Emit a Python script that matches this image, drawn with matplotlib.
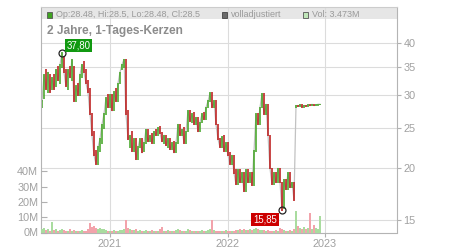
import matplotlib
matplotlib.use('Agg')
import matplotlib.pyplot as plt
import numpy as np
from matplotlib.patches import Rectangle
from matplotlib.ticker import NullLocator

plt.rcParams['font.family'] = ['Liberation Sans', 'DejaVu Sans']

# ---------------- data ----------------
opens = [
    28.0, 29.5, 34.5, 30.5, 33.5, 31.0, 33.5, 31.5, 35.0, 32.0,
    35.0, 37.0, 34.5, 31.0, 35.0, 32.5, 35.0, 29.0, 32.0, 30.0,
    33.0, 36.0, 34.5, 32.5, 31.0, 27.0, 24.5, 22.0, 20.5, 22.0,
    23.0, 25.0, 27.0, 30.0, 28.0, 30.0, 27.5, 31.0, 29.0, 32.0,
    34.5, 35.0, 36.5, 27.5, 22.5, 24.5, 22.0, 23.5, 21.0, 22.5,
    23.5, 22.0, 23.0, 24.8, 23.2, 24.2, 23.0, 24.8, 24.0, 25.2,
    24.3, 23.0, 24.0, 22.5, 23.5, 22.2, 23.2, 21.8, 23.0, 25.5,
    24.0, 25.0, 23.0, 24.5, 27.5, 25.8, 27.2, 25.5, 26.5, 24.5,
    25.8, 27.2, 26.2, 28.0, 29.0, 30.3, 28.0, 29.0, 25.5, 23.5,
    22.5, 24.0, 22.0, 23.0, 21.8, 20.5, 21.5, 19.8, 18.3, 19.8,
    18.5, 19.5, 17.6, 19.8, 18.5, 19.5, 18.2, 22.0, 27.0, 25.5,
    28.0, 30.2, 27.0, 28.5, 24.0, 20.0, 18.3, 19.5, 18.5, 20.0,
    18.5, 16.0, 18.8, 17.8, 19.5, 18.0, 18.5, 28.0, 28.3, 28.2,
    28.4, 28.1, 28.3, 28.2, 28.4, 28.3, 28.5, 28.3, 28.4, 28.48,
]
closes = [
    29.0, 33.5, 31.0, 34.0, 30.5, 33.0, 31.0, 34.5, 32.5, 35.5,
    37.8, 34.0, 31.5, 34.5, 33.0, 36.5, 29.0, 31.5, 30.0, 33.5,
    35.5, 34.0, 32.0, 30.5, 27.0, 24.0, 21.5, 20.5, 22.5, 23.5,
    25.5, 27.0, 29.5, 28.0, 30.0, 27.5, 30.5, 29.0, 32.0, 34.0,
    35.5, 36.5, 27.0, 23.5, 24.0, 22.0, 23.5, 21.0, 22.5, 23.5,
    21.8, 23.0, 24.8, 23.2, 24.0, 23.0, 24.5, 24.0, 25.0, 24.3,
    23.2, 24.0, 22.7, 23.5, 22.2, 23.0, 21.8, 23.0, 25.5, 24.0,
    24.8, 23.0, 24.5, 27.5, 26.0, 27.0, 25.5, 26.5, 24.5, 25.8,
    27.0, 26.2, 28.0, 29.0, 30.3, 28.0, 29.0, 25.5, 23.5, 22.5,
    23.8, 22.0, 23.0, 21.5, 20.5, 21.5, 19.5, 18.3, 19.8, 18.5,
    19.5, 17.6, 19.8, 18.5, 19.5, 18.2, 22.0, 27.0, 25.5, 28.0,
    30.2, 27.0, 28.5, 24.0, 20.0, 18.3, 19.5, 18.5, 20.0, 18.5,
    15.85, 18.8, 17.8, 19.5, 18.0, 18.5, 16.8, 28.3, 28.2, 28.4,
    28.1, 28.3, 28.2, 28.4, 28.3, 28.5, 28.3, 28.4, 28.5, 28.5,
]
volumes_m = [
    2.5, 3.0, 1.5, 2.0, 1.2, 7.0, 1.5, 2.5, 1.2, 1.8,
    2.0, 1.5, 1.0, 1.3, 2.5, 1.0, 1.5, 1.2, 1.0, 1.3,
    1.5, 1.0, 1.2, 2.0, 6.5, 3.5, 4.0, 3.0, 2.5, 3.0,
    2.0, 2.5, 1.5, 1.2, 1.0, 1.3, 1.5, 1.0, 1.2, 1.5,
    1.8, 2.0, 8.0, 3.0, 2.0, 1.8, 1.5, 2.0, 1.2, 1.5,
    1.0, 1.3, 1.8, 1.2, 1.0, 1.5, 1.2, 1.0, 1.3, 2.5,
    3.5, 1.2, 1.0, 1.5, 1.3, 1.0, 1.2, 1.8, 2.5, 1.5,
    1.2, 1.0, 1.3, 2.0, 1.5, 1.2, 1.0, 1.3, 1.2, 1.0,
    1.5, 1.2, 1.3, 1.8, 2.0, 8.5, 1.5, 1.2, 1.0, 1.3,
    1.0, 1.2, 1.5, 1.0, 1.3, 1.2, 1.0, 1.5, 1.8, 2.0,
    1.5, 2.2, 1.8, 1.5, 2.0, 1.5, 2.5, 3.0, 2.0, 1.5,
    1.8, 1.5, 1.2, 1.5, 1.3, 1.0, 1.2, 1.5, 1.3, 3.0,
    2.0, 1.5, 1.2, 1.3, 1.5, 1.2, 2.0, 14.0, 4.0, 3.0,
    2.5, 3.5, 2.0, 3.0, 13.0, 2.5, 5.0, 3.0, 2.0, 11.0,
]
year_labels = ['2021', '2022', '2023']
year_index = [34, 93, 141.5]          # candle index where each year starts
price_ticks = [15, 20, 25, 30, 35, 40]
vol_ticks = [0, 10, 20, 30, 40]
high_point = (10, 37.80, '37,80')
low_point = (120, 15.85, '15,85')
header_ohlc = 'Op:28.48, Hi:28.5, Lo:28.48, Cl:28.5'
header_adj = 'volladjustiert'
header_vol = 'Vol: 3.473M'
title = '2 Jahre, 1-Tages-Kerzen'

# ---------------- styles ----------------
UP = '#3fa320'
DOWN = '#bb1414'
VUP = '#a9dc9f'
VDOWN = '#f2a3ab'
GRID = '#dcdcdc'
TXT = '#a0a0a0'

W, H = 450, 250
fig = plt.figure(figsize=(W / 100, H / 100), dpi=100)
ax = fig.add_axes([41 / W, 17.5 / H, 356 / W, 225.5 / H])
axv = ax.twinx()

idx = np.arange(len(closes))
c = np.array(closes)
o = np.array(opens)
up = c >= o

# price axis (log, ticks on right)
ax.set_yscale('log')
ax.set_ylim(14.03, 48.8)
ax.set_xlim(-0.5, 177.5)
ax.plot(idx, c, color='#c2c2c2', lw=0.9, zorder=1)
lo = np.minimum(o, c) / 1.004
hi = np.maximum(o, c) * 1.004
ax.vlines(idx, lo, hi, colors=np.where(up, UP, DOWN), lw=1.1, zorder=2)

ax.yaxis.tick_right()
ax.set_yticks(price_ticks)
ax.set_yticklabels([str(p) for p in price_ticks])
ax.yaxis.set_minor_locator(NullLocator())
ax.set_xticks(year_index)
ax.set_xticklabels(year_labels)
ax.xaxis.set_minor_locator(NullLocator())
ax.tick_params(axis='y', which='both', direction='out', length=3, pad=1.5,
               color='#b0b0b0', labelcolor=TXT, labelsize=7.8)
ax.tick_params(axis='x', which='both', direction='out', length=3, pad=1.5,
               color='#b0b0b0', labelcolor=TXT, labelsize=7.8)
ax.grid(True, color=GRID, lw=0.8)
ax.set_axisbelow(True)

# header band
ax.add_patch(Rectangle((0, 1 - 12 / 225.5), 1, 12 / 225.5, transform=ax.transAxes,
                       fc='#e6e6e6', ec='none', zorder=0.1))

for side in ['left', 'right', 'bottom']:
    ax.spines[side].set_color('#b4b4b4')
ax.spines['top'].set_color('#cccccc')

# markers and labels
for (i, p, lab), fc, off in [(high_point, '#119911', (16.5, 7.5)),
                             (low_point, '#cc0000', (-17, -9))]:
    ax.plot([i], [p], 'o', mfc='none', mec='#222222', mew=0.9, ms=5, zorder=5)
    ax.annotate(lab, xy=(i, p), xytext=(off[0] * 0.72, off[1] * 0.72),
                textcoords='offset points', ha='center', va='center',
                color='white', fontsize=6.9, zorder=6,
                bbox=dict(boxstyle='square,pad=0.18', fc=fc, ec='none'))

# volume axis (ticks on left)
axv.set_ylim(0, 147.5)
axv.bar(idx, volumes_m, width=0.8, color=np.where(up, VUP, VDOWN), lw=0, zorder=1)
axv.yaxis.tick_left()
axv.set_yticks(vol_ticks)
axv.set_yticklabels([f'{v}M' for v in vol_ticks])
axv.tick_params(axis='y', direction='in', length=4, pad=2,
                color='#b0b0b0', labelcolor=TXT, labelsize=7.8)
for s in axv.spines.values():
    s.set_visible(False)

# header texts
def fy(y):
    return 1 - y / H

hdr = dict(fontsize=6.5, color='#9a9a9a', va='center', ha='left')
for x0, col, ec, txt in [(46.5, '#3fa320', '#555555', header_ohlc),
                         (221.5, '#6a6a6a', '#444444', header_adj),
                         (302.5, '#bfe6b8', '#555555', header_vol)]:
    fig.add_artist(Rectangle((x0 / W, fy(17.5)), 5.5 / W, 5.5 / H,
                             transform=fig.transFigure, fc=col, ec=ec, lw=0.6))
    fig.text((x0 + 9.5) / W, fy(14.5), txt, **hdr)

fig.text(47 / W, fy(34), title, fontsize=8.6, fontweight='bold',
         color='#8c8c8c', va='baseline', ha='left')

fig.savefig('out.png', dpi=100)
